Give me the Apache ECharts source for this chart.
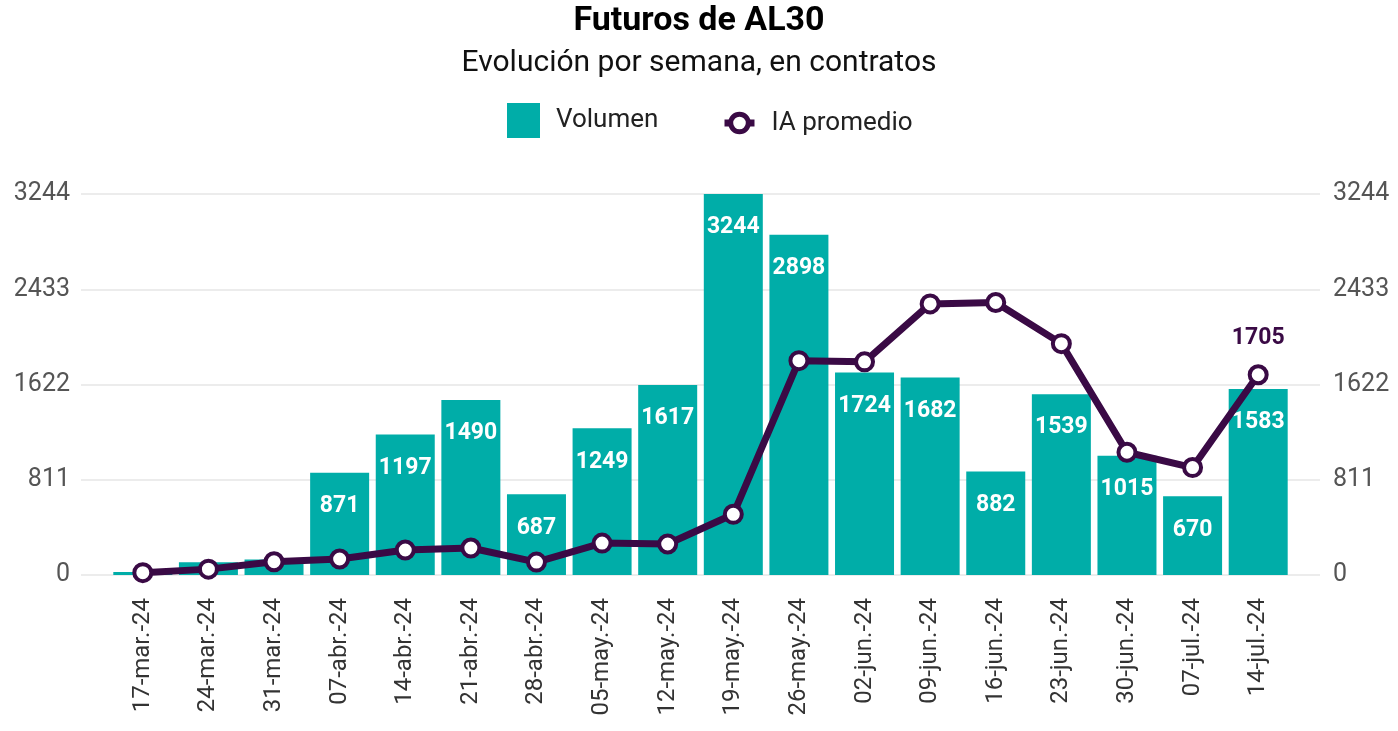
<!DOCTYPE html>
<html>
<head>
<meta charset="utf-8">
<script src="https://cdn.jsdelivr.net/npm/echarts@6/dist/echarts.min.js"></script>
<style>html,body{margin:0;padding:0;background:#fff;}#c{width:1398px;height:731px;}</style>
</head>
<body>
<div id="c"></div>
<script>
const categories = ['17-mar.-24','24-mar.-24','31-mar.-24','07-abr.-24','14-abr.-24','21-abr.-24','28-abr.-24','05-may.-24','12-may.-24','19-may.-24','26-may.-24','02-jun.-24','09-jun.-24','16-jun.-24','23-jun.-24','30-jun.-24','07-jul.-24','14-jul.-24'];
const volumen = [25,108,133,871,1197,1490,687,1249,1617,3244,2898,1724,1682,882,1539,1015,670,1583];
const iaPromedio = [20,50,113,136,213,230,110,272,264,517,1825,1815,2308,2320,1970,1045,915,1705];
const yTicks = [0,811,1622,2433,3244];

const TEAL = '#00ADA8';
const PURPLE = '#3A0A45';
const FONT = 'Roboto';
const lastIdx = iaPromedio.length - 1;

const chart = echarts.init(document.getElementById('c'), null, {renderer:'canvas'});
chart.setOption({
  backgroundColor:'#fff',
  textStyle:{fontFamily:FONT},
  title:[
    {text:'Futuros de AL30', left:'center', top:4, padding:0, textStyle:{fontFamily:FONT, fontWeight:'bold', fontSize:34, color:'#000'}},
    {text:'Evolución por semana, en contratos', left:'center', top:48, padding:0, textStyle:{fontFamily:FONT, fontWeight:'normal', fontSize:30, color:'#111'}}
  ],
  legend:[
    {data:['Volumen'], left:507, top:103, padding:0, itemWidth:33, itemHeight:35, icon:'rect',
     textStyle:{fontFamily:FONT, fontSize:26, color:'#222', padding:[5,0,0,11]}},
    {data:['IA promedio'], left:721, top:110, padding:0, itemWidth:30, itemHeight:22,
     lineStyle:{width:7, color:PURPLE},
     itemStyle:{color:'#fff', borderColor:PURPLE, borderWidth:5},
     textStyle:{fontFamily:FONT, fontSize:26, color:'#222', padding:[0,0,0,12]}}
  ],
  grid:[
    {left:110, right:107, top:194, bottom:156, containLabel:false},
    {left:81, right:78, top:194, bottom:156, containLabel:false}
  ],
  xAxis:[
    {type:'category', gridIndex:0, data:categories, boundaryGap:true,
     axisLine:{show:false}, axisTick:{show:false},
     axisLabel:{rotate:90, margin:23, fontFamily:FONT, fontSize:24, color:'#333', interval:0}},
    {type:'value', gridIndex:1, show:false, min:0, max:1}
  ],
  yAxis:[
    {type:'value', gridIndex:0, min:0, max:3244, interval:811, show:false, splitLine:{show:false}},
    {type:'value', gridIndex:1, min:0, max:3244, interval:811, position:'left',
     axisLine:{show:false}, axisTick:{show:false},
     splitLine:{lineStyle:{color:'#e6e6e6', width:1.5}},
     axisLabel:{margin:11, fontFamily:FONT, fontSize:25, color:'#555', formatter:v => String(v)}},
    {type:'value', gridIndex:1, min:0, max:3244, interval:811, position:'right',
     axisLine:{show:false}, axisTick:{show:false}, splitLine:{show:false},
     axisLabel:{margin:13, fontFamily:FONT, fontSize:25, color:'#555', formatter:v => String(v)}}
  ],
  series:[
    {name:'Volumen', type:'bar', xAxisIndex:0, yAxisIndex:0, data:volumen, barWidth:59,
     itemStyle:{color:TEAL}, z:2,
     label:{show:true, position:'insideTop', distance:22, color:'#fff', fontWeight:'bold', fontSize:23, fontFamily:FONT,
       formatter:p => p.value >= 300 ? String(p.value) : ''}},
    {name:'IA promedio', type:'line', xAxisIndex:0, yAxisIndex:0, data:iaPromedio.map((v,i)=> i===lastIdx ? {value:v, label:{show:true}} : v),
     symbol:'circle', symbolSize:17, z:5,
     lineStyle:{color:PURPLE, width:7},
     itemStyle:{color:'#fff', borderColor:PURPLE, borderWidth:4},
     label:{show:false, position:'top', distance:15, color:PURPLE, fontWeight:'bold', fontSize:23, fontFamily:FONT},
     emphasis:{disabled:true}}
  ]
});
</script>
</body>
</html>
